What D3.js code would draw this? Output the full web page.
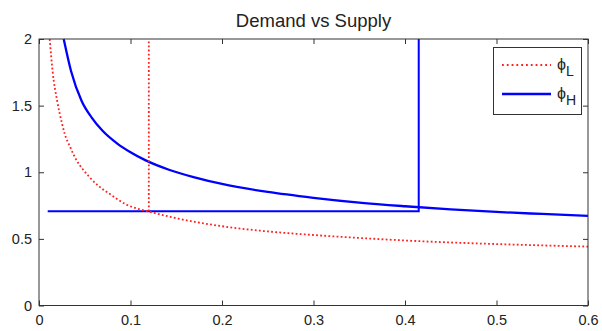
<!DOCTYPE html>
<html>
<head>
<meta charset="utf-8">
<script src="https://cdn.jsdelivr.net/npm/d3@7/dist/d3.min.js"></script>
<style>
  html, body { margin: 0; padding: 0; background: #fff; }
  svg { display: block; font-family: "Liberation Sans", Arial, sans-serif; }
</style>
</head>
<body>
<svg id="chart" width="602" height="331"></svg>
<script>
// Demand curves (price vs quantity) for the low and high types
const phiLX = [0.0117, 0.015, 0.02, 0.025, 0.028, 0.034, 0.041, 0.0485, 0.055, 0.066, 0.079, 0.087, 0.0965, 0.106, 0.12, 0.15, 0.2, 0.25, 0.3, 0.35, 0.4, 0.45, 0.5, 0.55, 0.6];
const phiLY = [2.0, 1.75, 1.53, 1.37, 1.29, 1.19, 1.09, 1.017, 0.965, 0.892, 0.829, 0.792, 0.754, 0.73, 0.705, 0.655, 0.595, 0.556, 0.529, 0.507, 0.488, 0.473, 0.461, 0.451, 0.442];
const phiHX = [0.027, 0.035, 0.0466, 0.0576, 0.0692, 0.0856, 0.1, 0.1166, 0.142, 0.17, 0.2, 0.25, 0.3, 0.35, 0.4, 0.45, 0.5, 0.55, 0.6];
const phiHY = [2.0, 1.76, 1.535, 1.41, 1.313, 1.215, 1.15, 1.089, 1.019, 0.962, 0.912, 0.852, 0.808, 0.772, 0.745, 0.722, 0.702, 0.687, 0.673];

// Supply schedule: flat price up to capacity, then vertical
const supplyX = [0.0095, 0.415, 0.415];
const supplyY = [0.707, 0.707, 2.0];
// Low-type quantity cut-off
const cutLX = [0.12, 0.12];
const cutLY = [0.707, 2.0];

const xTicks = [0, 0.1, 0.2, 0.3, 0.4, 0.5, 0.6];
const yTicks = [0, 0.5, 1, 1.5, 2];
const xTickLabels = ["0", "0.1", "0.2", "0.3", "0.4", "0.5", "0.6"];
const yTickLabels = ["0", "0.5", "1", "1.5", "2"];

const titleText = "Demand vs Supply";
const legendNames = [["ϕ", "L"], ["ϕ", "H"]];

const svg = d3.select("#chart");
const pLeft = 39, pRight = 588, pTop = 39, pBottom = 305.5;

const x = d3.scaleLinear().domain([0, 0.6]).range([pLeft, pRight]);
const y = d3.scaleLinear().domain([0, 2]).range([pBottom, pTop]);

const red = "#ff2020", blue = "#0000ff", axisCol = "#333";
const dotDash = "1.8 2.3";

svg.append("defs").append("clipPath").attr("id", "plotClip")
  .append("rect").attr("x", pLeft).attr("y", pTop - 1)
  .attr("width", pRight - pLeft).attr("height", pBottom - pTop + 1);

const plot = svg.append("g").attr("clip-path", "url(#plotClip)");

const line = d3.line().x(d => x(d[0])).y(d => y(d[1]));
const smooth = d3.line().x(d => x(d[0])).y(d => y(d[1])).curve(d3.curveMonotoneX);
const zip = (a, b) => a.map((v, i) => [v, b[i]]);

// Supply (blue, solid)
plot.append("path").attr("d", line(zip(supplyX, supplyY)))
  .attr("fill", "none").attr("stroke", blue).attr("stroke-width", 2);
// High-type demand (blue, solid)
plot.append("path").attr("d", smooth(zip(phiHX, phiHY)))
  .attr("fill", "none").attr("stroke", blue).attr("stroke-width", 2.3);
// Low-type demand (red, dotted)
plot.append("path").attr("d", smooth(zip(phiLX, phiLY)))
  .attr("fill", "none").attr("stroke", red).attr("stroke-width", 1.8)
  .attr("stroke-dasharray", dotDash);
plot.append("path").attr("d", line(zip(cutLX, cutLY)))
  .attr("fill", "none").attr("stroke", red).attr("stroke-width", 1.8)
  .attr("stroke-dasharray", dotDash);

// Axes box with inward ticks on all four sides
const axes = svg.append("g").attr("fill", "none").attr("stroke", axisCol).attr("stroke-width", 1);
axes.append("rect").attr("x", pLeft).attr("y", pTop)
  .attr("width", pRight - pLeft).attr("height", pBottom - pTop);

const tickLen = 5;
const xb = d3.axisBottom(x).tickValues(xTicks).tickSizeInner(-tickLen).tickSizeOuter(0)
  .tickFormat((d, i) => xTickLabels[i]).tickPadding(9);
const xt = d3.axisTop(x).tickValues(xTicks).tickSizeInner(-tickLen).tickSizeOuter(0).tickFormat("");
const yl = d3.axisLeft(y).tickValues(yTicks).tickSizeInner(-tickLen).tickSizeOuter(0)
  .tickFormat((d, i) => yTickLabels[i]).tickPadding(7);
const yr = d3.axisRight(y).tickValues(yTicks).tickSizeInner(-tickLen).tickSizeOuter(0).tickFormat("");

function styleAxis(g) {
  g.select(".domain").remove();
  g.selectAll(".tick line").attr("stroke", axisCol);
  g.selectAll(".tick text").attr("fill", "#222").attr("font-size", 14.5)
    .attr("font-family", "'Liberation Sans', Arial, sans-serif");
}
svg.append("g").attr("transform", `translate(0,${pBottom})`).call(xb).call(styleAxis);
svg.append("g").attr("transform", `translate(0,${pTop})`).call(xt).call(styleAxis);
svg.append("g").attr("transform", `translate(${pLeft},0)`).call(yl).call(styleAxis);
svg.append("g").attr("transform", `translate(${pRight},0)`).call(yr).call(styleAxis);

// Title
svg.append("text").attr("x", (pLeft + pRight) / 2).attr("y", 26.5)
  .attr("text-anchor", "middle").attr("font-size", 18.5).attr("fill", "#222")
  .text(titleText);

// Legend
const lg = svg.append("g");
lg.append("rect").attr("x", 493.5).attr("y", 47.5).attr("width", 88).attr("height", 67)
  .attr("fill", "#fff").attr("stroke", axisCol).attr("stroke-width", 1);
const legStyles = [
  { color: red, width: 1.8, dash: "1.8 3" },
  { color: blue, width: 2.4, dash: null }
];
const legRows = [65, 94];
legendNames.forEach((nm, i) => {
  const s = legStyles[i];
  lg.append("line").attr("x1", 502).attr("x2", 551)
    .attr("y1", legRows[i]).attr("y2", legRows[i])
    .attr("stroke", s.color).attr("stroke-width", s.width)
    .attr("stroke-dasharray", s.dash);
  const t = lg.append("text").attr("x", 557).attr("y", legRows[i] + 5)
    .attr("font-size", 16).attr("fill", "#222");
  t.append("tspan").text(nm[0]);
  t.append("tspan").attr("font-size", 14).attr("dy", 6).text(nm[1]);
});
</script>
</body>
</html>
